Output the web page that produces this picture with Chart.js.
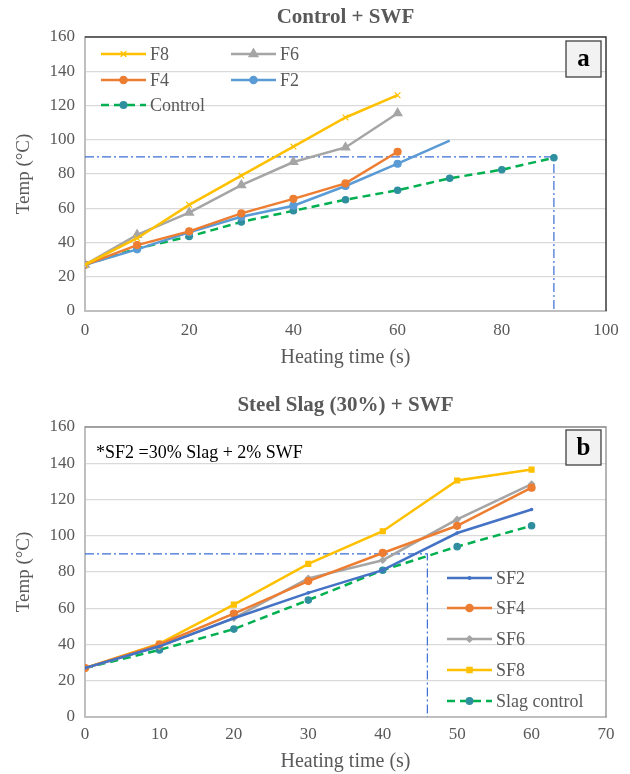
<!DOCTYPE html>
<html><head><meta charset="utf-8">
<script src="https://cdn.jsdelivr.net/npm/chart.js@4/dist/chart.umd.min.js"></script>
<style>
html,body{margin:0;padding:0;background:#fff;width:630px;height:774px;overflow:hidden}
canvas{position:absolute;left:0}
</style></head><body>
<canvas id="ca" width="630" height="387" style="top:0"></canvas>
<canvas id="cb" width="630" height="387" style="top:387px"></canvas>
<script>
// ---------- Data: chart a (Control + SWF) ----------
const timeA = [0, 10, 20, 30, 40, 50, 60];
const timeF2 = [0, 10, 20, 30, 40, 50, 60, 70];
const timeControl = [0, 10, 20, 30, 40, 50, 60, 70, 80, 90];
const f8 = [27, 42.5, 62, 79, 96, 113, 126];
const f6 = [27, 44.5, 57.5, 73.5, 87, 95.5, 115.5];
const f4 = [27, 38.5, 46.5, 57, 65.5, 74.5, 93];
const f2 = [27, 36, 46, 55, 61.5, 73, 86, 99.5];
const controlA = [27, 36.5, 43.5, 52, 58.5, 65, 70.5, 77.5, 82.5, 89.5];
const refTempA = 90;
const refTimeA = 90;

// ---------- Data: chart b (Steel Slag (30%) + SWF) ----------
const timeB = [0, 10, 20, 30, 40, 50, 60];
const sf2 = [27, 39, 54.5, 68.5, 81, 101.5, 114.5];
const sf4 = [27, 40, 57, 75, 90.5, 105.5, 126.5];
const sf6 = [27, 39, 54.5, 76.5, 86.5, 109, 128.5];
const sf8 = [27, 40.5, 62, 84.5, 102.5, 130.5, 136.5];
const slagControl = [27, 37, 48.5, 64.5, 81, 94, 105.5];
const refTempB = 90;
const refTimeB = 46;

const yTicks = [0, 20, 40, 60, 80, 100, 120, 140, 160];

const pts = (xs, ys) => xs.map((x, i) => ({x: x, y: ys[i]}));
const refPts = (t, T) => [{x: 0, y: T}, {x: t, y: T}, {x: t, y: 0}];

const SERIF = '"Liberation Serif", "Times New Roman", serif';
const GREY = '#595959';

function series(label, xs, ys, color, style, radius, extra) {
  return Object.assign({
    label: label, data: pts(xs, ys), borderColor: color, backgroundColor: color,
    pointBackgroundColor: color, pointBorderColor: color, pointStyle: style,
    pointRadius: radius, pointHoverRadius: radius, borderWidth: 2.5,
    pointBorderWidth: 1.2, tension: 0, fill: false
  }, extra || {});
}
function refLine(t, T) {
  return {label: 'ref', data: refPts(t, T), borderColor: '#3b6fd4', borderWidth: 1.2,
    borderDash: [9, 3, 2, 3], pointRadius: 0, pointHoverRadius: 0, fill: false, tension: 0};
}

function markerAt(ctx, it, ds, x, y) {
  const opts = {pointStyle: ds.pointStyle, radius: it.r, rotation: 0, borderWidth: 1.2};
  ctx.fillStyle = ds.pointBackgroundColor;
  ctx.strokeStyle = ds.pointBorderColor;
  ctx.lineWidth = 1.5;
  ctx.setLineDash([]);
  if (Chart.helpers && Chart.helpers.drawPoint) {
    Chart.helpers.drawPoint(ctx, opts, x, y);
  } else {
    ctx.beginPath(); ctx.arc(x, y, it.r, 0, Math.PI * 2); ctx.fill();
  }
}

const decoPlugin = {
  id: 'deco',
  beforeDatasetsDraw(chart, args, o) {
    const {ctx, chartArea: a} = chart;
    ctx.save();
    ctx.strokeStyle = o.frameColor; ctx.lineWidth = o.frameWidth;
    ctx.beginPath();
    ctx.moveTo(a.left, a.top); ctx.lineTo(a.right, a.top); ctx.lineTo(a.right, a.bottom);
    ctx.stroke();
    ctx.restore();
  },
  afterDraw(chart, args, o) {
    const {ctx, chartArea: a} = chart;
    ctx.save();
    // title
    ctx.fillStyle = GREY;
    ctx.font = 'bold 21px ' + SERIF;
    ctx.textAlign = 'center'; ctx.textBaseline = 'middle';
    ctx.fillText(o.title, (a.left + a.right) / 2, o.titleY);
    // panel letter box
    const bx = a.right - 5 - o.boxW, by = a.top + o.boxTop;
    ctx.fillStyle = '#f2f2f2'; ctx.fillRect(bx, by, o.boxW, o.boxH);
    ctx.strokeStyle = '#404040'; ctx.lineWidth = 1.3; ctx.strokeRect(bx, by, o.boxW, o.boxH);
    ctx.fillStyle = '#000'; ctx.font = 'bold 25px ' + SERIF;
    ctx.fillText(o.letter, bx + o.boxW / 2, by + o.boxH / 2 + 1);
    // note
    if (o.note) {
      ctx.fillStyle = '#000'; ctx.font = '18px ' + SERIF; ctx.textAlign = 'left';
      ctx.fillText(o.note, o.noteX, o.noteY);
    }
    // legend
    ctx.font = '18px ' + SERIF; ctx.textAlign = 'left'; ctx.textBaseline = 'middle';
    o.legend.forEach(it => {
      const ds = chart.data.datasets[it.ds];
      ctx.save();
      ctx.strokeStyle = ds.borderColor; ctx.lineWidth = ds.borderWidth;
      ctx.setLineDash(ds.borderDash || []);
      ctx.beginPath(); ctx.moveTo(it.x, it.y); ctx.lineTo(it.x + o.lineLen, it.y); ctx.stroke();
      markerAt(ctx, it, ds, it.x + o.lineLen / 2, it.y);
      ctx.restore();
      ctx.fillStyle = GREY;
      ctx.fillText(ds.label, it.x + o.lineLen + 4, it.y + 1);
    });
    ctx.restore();
  }
};

function axes(xMax, xStep, xHeight, yWidth, tickPad, titlePadBottom) {
  return {
    x: {
      type: 'linear', min: 0, max: xMax,
      ticks: {stepSize: xStep, color: GREY, font: {family: SERIF, size: 17}, padding: tickPad, maxRotation: 0},
      grid: {color: 'rgba(0,0,0,0)', drawTicks: false},
      border: {color: '#bfbfbf', width: 2},
      title: {display: true, text: 'Heating time (s)', color: GREY, font: {family: SERIF, size: 20}, padding: {top: 0, bottom: titlePadBottom}},
      afterFit: s => { s.height = xHeight; }
    },
    y: {
      type: 'linear', min: 0, max: 160,
      afterBuildTicks: s => { s.ticks = yTicks.map(v => ({value: v})); },
      ticks: {color: GREY, font: {family: SERIF, size: 17}, padding: 10},
      grid: {color: '#d9d9d9', lineWidth: 1.3, drawTicks: false},
      border: {color: '#bfbfbf', width: 2},
      title: {display: true, text: 'Temp (°C)', color: GREY, font: {family: SERIF, size: 19}, padding: {top: 13, bottom: 0}},
      afterFit: s => { s.width = yWidth; }
    }
  };
}

const GREEN = '#00b050', TEAL = '#2f8f9f';

// ---------- chart a ----------
new Chart(document.getElementById('ca'), {
  type: 'line',
  data: {datasets: [
    series('F8', timeA, f8, '#ffc000', 'crossRot', 4),
    series('F6', timeA, f6, '#a5a5a5', 'triangle', 5),
    series('F4', timeA, f4, '#ed7d31', 'circle', 3.5),
    series('F2', timeF2, f2, '#5b9bd5', 'circle', [3.5, 3.5, 3.5, 3.5, 3.5, 3.5, 3.5, 0]),
    series('Control', timeControl, controlA, GREEN, 'circle', 3.2,
      {borderDash: [8, 5], pointBackgroundColor: TEAL, pointBorderColor: TEAL}),
    refLine(refTimeA, refTempA)
  ]},
  options: {
    responsive: false, animation: false, devicePixelRatio: 1,
    layout: {padding: {top: 37, right: 24, left: 0, bottom: 0}},
    scales: axes(100, 20, 76, 85, 9, 17),
    plugins: {
      legend: {display: false}, tooltip: {enabled: false},
      deco: {
        title: 'Control + SWF', titleY: 18, letter: 'a', boxW: 35, boxH: 36, boxTop: 4,
        frameColor: '#3a3a3a', frameWidth: 1.5, lineLen: 45,
        legend: [
          {ds: 0, x: 101, y: 54, r: 4}, {ds: 1, x: 231, y: 54, r: 5},
          {ds: 2, x: 101, y: 80, r: 3.5}, {ds: 3, x: 231, y: 80, r: 3.5},
          {ds: 4, x: 101, y: 105, r: 3.2}
        ]
      }
    }
  },
  plugins: [decoPlugin]
});

// ---------- chart b ----------
new Chart(document.getElementById('cb'), {
  type: 'line',
  data: {datasets: [
    series('SF2', timeB, sf2, '#4472c4', 'circle', 1.2),
    series('SF4', timeB, sf4, '#ed7d31', 'circle', 3.5),
    series('SF6', timeB, sf6, '#a5a5a5', 'rectRot', 3),
    series('SF8', timeB, sf8, '#ffc000', 'rect', 3.5),
    series('Slag control', timeB, slagControl, GREEN, 'circle', 3.2,
      {borderDash: [8, 5], pointBackgroundColor: TEAL, pointBorderColor: TEAL}),
    refLine(refTimeB, refTempB)
  ]},
  options: {
    responsive: false, animation: false, devicePixelRatio: 1,
    layout: {padding: {top: 40, right: 24, left: 0, bottom: 0}},
    scales: axes(70, 10, 57, 85, 7, 0),
    plugins: {
      legend: {display: false}, tooltip: {enabled: false},
      deco: {
        title: 'Steel Slag (30%) + SWF', titleY: 19, letter: 'b', boxW: 35, boxH: 35, boxTop: 3,
        frameColor: '#8c8c8c', frameWidth: 1.3, lineLen: 45,
        note: '*SF2 =30% Slag + 2% SWF', noteX: 96, noteY: 66,
        legend: [
          {ds: 0, x: 447, y: 191, r: 1.2}, {ds: 1, x: 447, y: 221, r: 3.5},
          {ds: 2, x: 447, y: 252, r: 3}, {ds: 3, x: 447, y: 283, r: 3.5},
          {ds: 4, x: 447, y: 314, r: 3.2}
        ]
      }
    }
  },
  plugins: [decoPlugin]
});
</script>
</body></html>
